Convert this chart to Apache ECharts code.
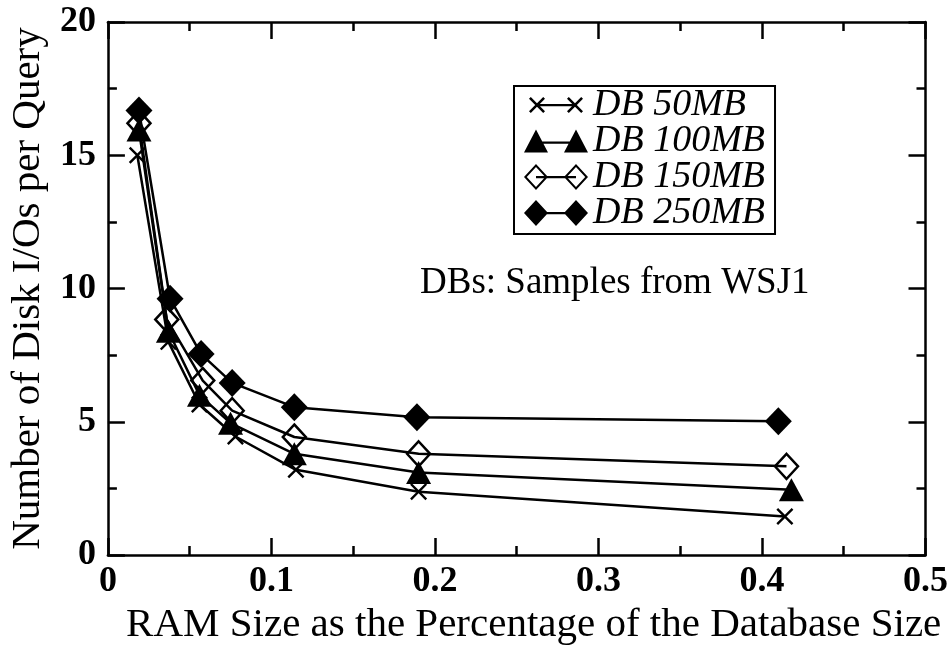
<!DOCTYPE html>
<html>
<head>
<meta charset="utf-8">
<script src="https://cdn.jsdelivr.net/npm/echarts@6/dist/echarts.min.js"></script>
<style>html,body{margin:0;padding:0;background:#fff}#c{width:951px;height:651px}</style>
</head>
<body>
<div id="c"></div>
<script>
// ---- data ----
const seriesNames = ['DB 50MB', 'DB 100MB', 'DB 150MB', 'DB 250MB'];
const x50  = [0.018, 0.037, 0.056, 0.078, 0.115, 0.190, 0.414];
const y50  = [15.0, 8.0, 5.65, 4.45, 3.2, 2.38, 1.45];
const x100 = [0.019, 0.037, 0.056, 0.075, 0.114, 0.190, 0.418];
const y100 = [15.95, 8.4, 6.0, 4.95, 3.8, 3.1, 2.45];
const x150 = [0.019, 0.036, 0.058, 0.076, 0.114, 0.190, 0.415];
const y150 = [16.2, 8.84, 6.55, 5.42, 4.43, 3.8, 3.33];
const x250 = [0.019, 0.038, 0.057, 0.076, 0.114, 0.189, 0.410];
const y250 = [16.68, 9.62, 7.54, 6.46, 5.55, 5.17, 5.02];
const xTicks = [0, 0.1, 0.2, 0.3, 0.4, 0.5];
const yTicks = [0, 5, 10, 15, 20];
const noteText = 'DBs: Samples from WSJ1';
const xTitle = 'RAM Size as the Percentage of the Database Size';
const yTitle = 'Number of Disk I/Os per Query';

// ---- style helpers ----
const FONT = 'Liberation Serif';
function xPoly(cx, cy, h, d) {
  const p = [[cx-h,cy-h+d],[cx-h+d,cy-h],[cx,cy-d],[cx+h-d,cy-h],[cx+h,cy-h+d],[cx+d,cy],
             [cx+h,cy+h-d],[cx+h-d,cy+h],[cx,cy+d],[cx-h+d,cy+h],[cx-h,cy+h-d],[cx-d,cy]];
  return 'M' + p.map(q => q[0].toFixed(2) + ',' + q[1].toFixed(2)).join('L') + 'Z';
}
const phantom = 'M0,0L0.001,0Z M64,26L64.001,26Z ';
function rect(x1, y1, x2, y2) { return `M${x1},${y1}L${x2},${y1}L${x2},${y2}L${x1},${y2}Z `; }
function diamond(cx, cy, hw, hh) { return `M${cx-hw},${cy}L${cx},${cy-hh}L${cx+hw},${cy}L${cx},${cy+hh}Z `; }
function diamondRev(cx, cy, hw, hh) { return `M${cx-hw},${cy}L${cx},${cy+hh}L${cx+hw},${cy}L${cx},${cy-hh}Z `; }
function tri(cx, cy, hw, hh) { return `M${cx-hw},${cy+hh}L${cx},${cy-hh}L${cx+hw},${cy+hh}Z `; }

const iconX = 'path://' + phantom + xPoly(13, 13, 8, 1.8) + ' ' + xPoly(51, 13, 8, 1.8) + ' ' + rect(13, 12, 51, 14.2);
const iconTri = 'path://' + phantom + tri(12, 13, 12, 11.5) + tri(52, 13, 12, 11.5) + rect(18, 13.5, 46, 15.7);
const iconHol = 'path://' + phantom + diamond(12, 13, 12, 13) + diamondRev(12, 13, 9.2, 10) +
                diamond(52, 13, 12, 13) + diamondRev(52, 13, 9.2, 10) + rect(12, 12, 52, 14.2);
const iconDia = 'path://' + phantom + diamond(12, 13, 12, 13) + diamond(52, 13, 12, 13) + rect(20, 12, 44, 14.2);
const symX = 'path://' + xPoly(50, 50, 50, 10);

function pairs(xs, ys) { return xs.map((v, i) => [v, ys[i]]); }

const lineStyle = { color: '#000', width: 2.5 };
const baseSeries = {
  type: 'line', xAxisIndex: 0, yAxisIndex: 0, showSymbol: true, symbolKeepAspect: false,
  lineStyle: lineStyle, emphasis: { disabled: true }, silent: true
};

const chart = echarts.init(document.getElementById('c'), null, { renderer: 'canvas' });
const axisCommon = {
  type: 'value',
  axisLine: { show: true, onZero: false, lineStyle: { color: '#000', width: 2.5 } },
  axisTick: { show: true, inside: true, length: 17, lineStyle: { color: '#000', width: 2.5 } },
  minorTick: { show: true, splitNumber: 2, length: 9, lineStyle: { color: '#000', width: 2.5 } },
  splitLine: { show: false }
};
const labelStyle = { color: '#000', fontFamily: FONT, fontSize: 36, fontWeight: 'bold' };

chart.setOption({
  animation: false,
  backgroundColor: '#fff',
  grid: { left: 96, right: 22, top: 22, bottom: 76 },
  xAxis: [
    Object.assign({}, axisCommon, {
      position: 'bottom', min: xTicks[0], max: xTicks[xTicks.length - 1], interval: 0.1,
      axisLabel: Object.assign({ margin: 9, formatter: v => String(+v.toFixed(1)) }, labelStyle),
      name: xTitle, nameLocation: 'middle', nameGap: 39,
      nameTextStyle: { color: '#000', fontFamily: FONT, fontSize: 41, padding: [0, 0, 0, 34] }
    }),
    Object.assign({}, axisCommon, {
      position: 'top', min: xTicks[0], max: xTicks[xTicks.length - 1], interval: 0.1,
      axisLabel: { show: false }
    })
  ],
  yAxis: [
    Object.assign({}, axisCommon, {
      position: 'left', min: yTicks[0], max: yTicks[yTicks.length - 1], interval: 5,
      axisLabel: Object.assign({ margin: 12 }, labelStyle),
      name: yTitle, nameLocation: 'middle', nameGap: 48,
      nameTextStyle: { color: '#000', fontFamily: FONT, fontSize: 41 }
    }),
    Object.assign({}, axisCommon, {
      position: 'right', min: yTicks[0], max: yTicks[yTicks.length - 1], interval: 5,
      axisLabel: { show: false }
    })
  ],
  legend: {
    orient: 'vertical', left: 514, top: 86,
    padding: [0, 10, 2, 10], itemGap: -2, itemWidth: 64, itemHeight: 26,
    backgroundColor: '#fff', borderColor: '#000', borderWidth: 2,
    selectedMode: false,
    textStyle: { color: '#000', fontFamily: FONT, fontSize: 38, fontStyle: 'italic' },
    data: [
      { name: seriesNames[0], icon: iconX,  itemStyle: { color: '#000', borderWidth: 0 } },
      { name: seriesNames[1], icon: iconTri, itemStyle: { color: '#000', borderWidth: 0 } },
      { name: seriesNames[2], icon: iconHol, itemStyle: { color: '#000', borderWidth: 0 } },
      { name: seriesNames[3], icon: iconDia, itemStyle: { color: '#000', borderWidth: 0 } }
    ]
  },
  graphic: [{
    type: 'text', left: 420, top: 265, silent: true,
    style: { text: noteText, fill: '#000', font: '37px "Liberation Serif"' }
  }],
  series: [
    Object.assign({}, baseSeries, {
      name: seriesNames[0], data: pairs(x50, y50), symbol: symX, symbolSize: [17, 17],
      itemStyle: { color: '#000', borderWidth: 0 }
    }),
    Object.assign({}, baseSeries, {
      name: seriesNames[1], data: pairs(x100, y100), symbol: 'triangle', symbolSize: [25, 23],
      itemStyle: { color: '#000', borderWidth: 0 }
    }),
    Object.assign({}, baseSeries, {
      name: seriesNames[2], data: pairs(x150, y150), symbol: 'diamond', symbolSize: [23, 25],
      itemStyle: { color: 'rgba(0,0,0,0)', borderColor: '#000', borderWidth: 2.5 }
    }),
    Object.assign({}, baseSeries, {
      name: seriesNames[3], data: pairs(x250, y250), symbol: 'diamond', symbolSize: [27, 28],
      itemStyle: { color: '#000', borderWidth: 0 }
    })
  ]
});
</script>
</body>
</html>
